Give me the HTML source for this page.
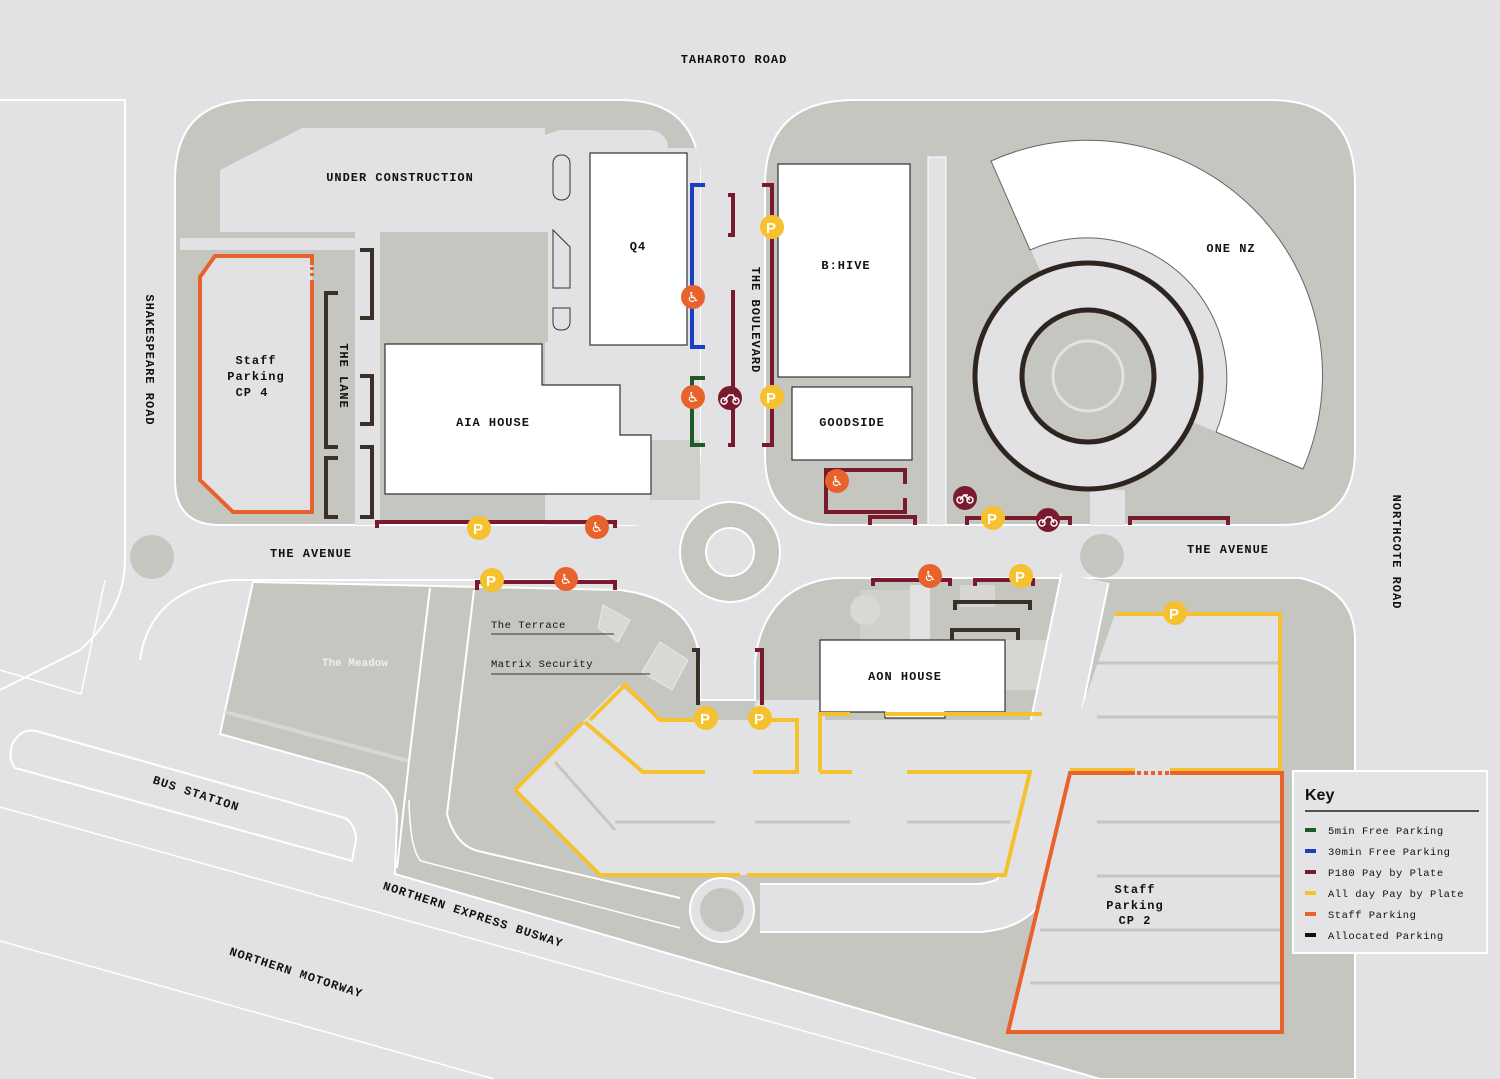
<!DOCTYPE html>
<html><head><meta charset="utf-8"><style>
html,body{margin:0;padding:0;background:#e2e2e5;width:1500px;height:1079px;overflow:hidden}
svg{display:block;overflow:hidden}
.t{font-family:"Liberation Mono",monospace;font-size:12px;font-weight:bold;fill:#111;letter-spacing:1px}
.s{font-family:"Liberation Mono",monospace;font-size:10.5px;fill:#111;letter-spacing:0.5px}
</style></head><body>
<svg width="1500" height="1079" viewBox="0 0 1500 1079" xmlns="http://www.w3.org/2000/svg" style="overflow:hidden">
<rect width="1500" height="1079" fill="#e2e2e5"/>
<path d="M0,100 H125 V560 Q125,610 80,650 L0,690" fill="none" stroke="#fff" stroke-width="2"/>
<path d="M0,670 L81,694 L105,580" fill="none" stroke="#fff" stroke-width="1.5"/>
<path d="M36,731 L345,818 Q356,825 356,840 L352,861 L15,768 Q8,760 12,745 Q20,728 36,731 Z" fill="none" stroke="#fff" stroke-width="2"/>
<path d="M0,807 L976,1079" stroke="#fff" stroke-width="1.5"/>
<path d="M0,941 L494,1079" stroke="#fff" stroke-width="1.5"/>
<path d="M140,660 Q150,590 230,580 L610,580" fill="none" stroke="#fff" stroke-width="2"/>

<path d="M255,100 H620 Q700,100 700,180 V450 Q700,525 625,525 H220 Q175,525 175,480 V180 Q175,100 255,100 Z" fill="#c6c6c1" stroke="#fff" stroke-width="2"/>
<path d="M220,170 L302,128 H545 V135 L560,130 H650 Q668,132 668,150 V232 H220 Z" fill="#e2e2e5"/>
<path d="M545,148 H700 V525 H545 Z" fill="#e2e2e5"/>
<rect x="180" y="238" width="200" height="12" fill="#e2e2e5"/>
<rect x="355" y="232" width="25" height="293" fill="#e2e2e5"/>
<rect x="380" y="232" width="168" height="110" fill="#c6c6c1"/>
<rect x="650" y="440" width="50" height="60" fill="#cfcfcb"/>
<path d="M200,277 L215,256 H312 V512 H233 L200,480 Z" fill="#e2e2e5"/>
<rect x="553" y="155" width="17" height="45" rx="8" fill="#e2e2e5" stroke="#333"/>
<path d="M553,230 L570,247 V288 H553 Z" fill="#e2e2e5" stroke="#333"/>
<path d="M553,308 H570 V322 Q570,330 561,330 Q553,330 553,322 Z" fill="#e2e2e5" stroke="#333"/>

<path d="M855,100 H1270 Q1355,100 1355,185 V450 Q1355,525 1280,525 H835 Q765,525 765,455 V185 Q765,100 855,100 Z" fill="#c6c6c1" stroke="#fff" stroke-width="2"/>
<rect x="928" y="157" width="18" height="368" fill="#e2e2e5" stroke="#fff"/>
<rect x="1090" y="490" width="35" height="35" fill="#e2e2e5"/>
<path d="M1088,376 L1030,248 A140,140 0 0 1 1216,432 Z" fill="#e2e2e5"/>
<path d="M991,161 A235,235 0 0 1 1303,469 L1216,432 A140,140 0 0 0 1030,250 Z" fill="#fff" stroke="#666" stroke-width="1"/>
<circle cx="1088" cy="376" r="113" fill="#e2e2e5" stroke="#2e2420" stroke-width="5"/>
<circle cx="1088" cy="376" r="66" fill="#c6c6c1" stroke="#2e2420" stroke-width="5"/>
<circle cx="1088" cy="376" r="35" fill="none" stroke="#e2e2e5" stroke-width="3"/>

<path d="M253,582 L620,590 Q700,600 700,670 L700,700 L755,700 L755,660 Q765,585 835,578 L1300,578 Q1355,590 1355,640 L1355,1079 L1100,1079 L395,874 L397,820 Q397,790 364,774 L220,734 Z" fill="#c6c6c1" stroke="#fff" stroke-width="2"/>
<line x1="225" y1="712" x2="409" y2="761" stroke="#d6d6d3" stroke-width="4"/>
<path d="M430,588 L409,761 L397,868" fill="none" stroke="#fff" stroke-width="2"/>
<path d="M474,590 L447,814 Q455,845 478,851 L680,898" fill="none" stroke="#fff" stroke-width="2"/>
<path d="M409,800 Q410,850 421,861 L680,928" fill="none" stroke="#fff" stroke-width="1.5"/>
<rect x="860" y="590" width="50" height="50" fill="#d0d0cc"/>
<circle cx="865" cy="610" r="15" fill="#d8d8d5"/>
<rect x="910" y="585" width="20" height="55" fill="#e2e2e5"/>
<rect x="960" y="585" width="35" height="22" fill="#d6d6d3"/>
<path d="M1005,640 H1055 V690 H1005 Z" fill="#d6d6d3"/>
<circle cx="730" cy="552" r="50" fill="#c6c6c1" stroke="#fff" stroke-width="2"/>
<circle cx="730" cy="552" r="24" fill="#e2e2e5" stroke="#fff" stroke-width="2"/>
<circle cx="152" cy="557" r="22" fill="#c6c6c1"/>
<circle cx="1102" cy="556" r="22" fill="#c6c6c1"/>
<path d="M1085,578 L1020,890 Q1010,905 980,908 L760,908" fill="none" stroke="#fff" stroke-width="50"/>
<path d="M1085,578 L1020,890 Q1010,905 980,908 L760,908" fill="none" stroke="#e2e2e5" stroke-width="46"/>
<circle cx="722" cy="910" r="32" fill="#e2e2e5" stroke="#fff" stroke-width="2"/>
<circle cx="722" cy="910" r="22" fill="#c6c6c1"/>
<path d="M515,790 L583,722 L620,685 L660,720 H1042 V770 L1005,875 H600 Z" fill="#e2e2e5"/>
<path d="M1115,614 H1280 V1032 H1008 L1070,773 L1060,770 Z" fill="#e2e2e5"/>
<rect x="755" y="700" width="70" height="70" fill="#e2e2e5"/>
<g stroke="#c6c6c1" stroke-width="3">
<line x1="615" y1="822" x2="715" y2="822"/><line x1="755" y1="822" x2="850" y2="822"/><line x1="907" y1="822" x2="1010" y2="822"/>
<line x1="1097" y1="663" x2="1280" y2="663"/><line x1="1097" y1="717" x2="1280" y2="717"/>
<line x1="1097" y1="822" x2="1280" y2="822"/><line x1="1097" y1="876" x2="1280" y2="876"/>
<line x1="1040" y1="930" x2="1280" y2="930"/><line x1="1030" y1="983" x2="1280" y2="983"/>
<path d="M555,762 L615,830"/>
</g>
<path d="M603,605 L630,620 L618,642 L598,628 Z M660,642 L688,660 L672,690 L642,672 Z" fill="#d8d8d5" stroke="#e8e8ea"/>

<g fill="#fff" stroke="#333" stroke-width="1.2">
<rect x="590" y="153" width="97" height="192"/>
<rect x="778" y="164" width="132" height="213"/>
<rect x="792" y="387" width="120" height="73"/>
<path d="M385,344 H542 V385 H620 V435 H651 V494 H385 Z"/>
<path d="M820,640 H1005 V712 H945 V718 H885 V712 H820 Z"/>
</g>

<g fill="none" stroke-width="4" stroke-linejoin="miter">
<path d="M705,185 H692 V347 H705" stroke="#1a3fc4"/>
<path d="M705,378 H692 V445 H705" stroke="#1e5a2a"/>
<g stroke="#7a1a2e">
<path d="M728,195 H733 V235 H728"/><path d="M733,290 V445 H728"/>
<path d="M762,185 H772 V445 H762"/>
<path d="M377,528 V522 H615 V528"/>
<path d="M477,590 V582 H615 V590"/>
<path d="M905,484 V470 H826 V512 H905 V498"/>
<path d="M870,525 V517 H915 V525"/>
<path d="M967,525 V518 H1070 V525"/>
<path d="M1130,525 V518 H1228 V525"/>
<path d="M873,586 V580 H950 V586"/><path d="M975,586 V580 H1033 V586"/>
<path d="M755,650 H762 V705"/>
</g>
<g stroke="#3a3028">
<path d="M360,250 H372 V318 H360"/><path d="M338,293 H326 V447 H338"/>
<path d="M360,376 H372 V424 H360"/><path d="M338,458 H326 V517 H338"/>
<path d="M360,447 H372 V517 H360"/>
<path d="M955,610 V602 H1030 V610"/><path d="M952,640 V630 H1018 V640"/>
<path d="M692,650 H698 V705"/>
</g>
<path d="M312,265 V256 H215 L200,277 V480 L233,512 H312 V280" stroke="#e8632b"/>
<path d="M312,267 V277" stroke="#e8632b" stroke-dasharray="3,3"/>
<g stroke="#f5c12e">
<path d="M590,720 L625,685 L660,720 H695"/>
<path d="M585,722 L643,772 H705"/>
<path d="M515,790 L583,722 M515,790 L600,875 H740"/>
<path d="M760,720 H797 V772 H753"/>
<path d="M907,772 H1030 L1005,875 H747"/>
<path d="M820,772 V714 H850 M885,714 H1042"/>
<path d="M820,772 H852"/>
<path d="M1115,614 H1280 V770 H1170"/><path d="M1135,770 H1070"/>
</g>
<path d="M1135,773 H1070 L1008,1032 H1282 V773 H1170" stroke="#e8632b"/>
<path d="M1137,773 H1170" stroke="#e8632b" stroke-dasharray="4,3"/>
</g>

<g font-family="Liberation Sans,sans-serif" font-weight="bold" text-anchor="middle">
<g fill="#f5c12e">
<circle cx="772" cy="227" r="12"/><circle cx="772" cy="397" r="12"/><circle cx="479" cy="528" r="12"/><circle cx="492" cy="580" r="12"/><circle cx="993" cy="518" r="12"/><circle cx="1021" cy="576" r="12"/><circle cx="1175" cy="613" r="12"/><circle cx="706" cy="718" r="12"/><circle cx="760" cy="718" r="12"/>
</g>
<g fill="#fff" font-size="15">
<text x="771" y="233">P</text><text x="771" y="403">P</text><text x="478" y="534">P</text><text x="491" y="586">P</text><text x="992" y="524">P</text><text x="1020" y="582">P</text><text x="1174" y="619">P</text><text x="705" y="724">P</text><text x="759" y="724">P</text>
</g>
<g fill="#e8632b">
<circle cx="693" cy="297" r="12"/><circle cx="693" cy="397" r="12"/><circle cx="597" cy="527" r="12"/><circle cx="566" cy="579" r="12"/><circle cx="837" cy="481" r="12"/><circle cx="930" cy="576" r="12"/>
</g>
<g fill="#fff" font-size="14" font-family="DejaVu Sans,sans-serif">
<text x="693" y="302">♿</text><text x="693" y="402">♿</text><text x="597" y="532">♿</text><text x="566" y="584">♿</text><text x="837" y="486">♿</text><text x="930" y="581">♿</text>
</g>
<g fill="#7a1a2e"><circle cx="730" cy="398" r="12"/><circle cx="1048" cy="520" r="12"/><circle cx="965" cy="498" r="12"/></g>
<g fill="none" stroke="#fff" stroke-width="1.5">
<circle cx="724" cy="401" r="3"/><circle cx="736" cy="401" r="3"/><path d="M724,401 L729,395 H733 L736,401"/>
<circle cx="1042" cy="523" r="3"/><circle cx="1054" cy="523" r="3"/><path d="M1042,523 L1047,517 H1051 L1054,523"/>
<circle cx="960" cy="500" r="3"/><circle cx="970" cy="500" r="3"/><path d="M960,500 L964,495 L970,500 M964,495 H968"/>
</g>
</g>

<text class="t" x="734" y="63" text-anchor="middle">TAHAROTO ROAD</text>
<text class="t" x="400" y="181" text-anchor="middle">UNDER CONSTRUCTION</text>
<text class="t" x="638" y="250" text-anchor="middle">Q4</text>
<text class="t" x="846" y="269" text-anchor="middle">B:HIVE</text>
<text class="t" x="852" y="426" text-anchor="middle">GOODSIDE</text>
<text class="t" x="493" y="426" text-anchor="middle">AIA HOUSE</text>
<text class="t" x="905" y="680" text-anchor="middle">AON HOUSE</text>
<text class="t" x="1231" y="252" text-anchor="middle">ONE NZ</text>
<text class="t" x="311" y="557" text-anchor="middle">THE AVENUE</text>
<text class="t" x="1228" y="553" text-anchor="middle">THE AVENUE</text>
<text class="t" x="256" y="364" text-anchor="middle">Staff</text>
<text class="t" x="256" y="380" text-anchor="middle">Parking</text>
<text class="t" x="252" y="396" text-anchor="middle">CP 4</text>
<text class="t" x="1135" y="893" text-anchor="middle">Staff</text>
<text class="t" x="1135" y="909" text-anchor="middle">Parking</text>
<text class="t" x="1135" y="924" text-anchor="middle">CP 2</text>
<text class="t" transform="translate(146,360) rotate(90)" text-anchor="middle">SHAKESPEARE ROAD</text>
<text class="t" transform="translate(340,376) rotate(90)" text-anchor="middle">THE LANE</text>
<text class="t" transform="translate(752,320) rotate(90)" text-anchor="middle">THE BOULEVARD</text>
<text class="t" transform="translate(1393,552) rotate(90)" text-anchor="middle">NORTHCOTE ROAD</text>
<text class="t" transform="translate(195,797) rotate(18)" text-anchor="middle">BUS STATION</text>
<text class="t" transform="translate(472,918) rotate(18)" text-anchor="middle">NORTHERN EXPRESS BUSWAY</text>
<text class="t" transform="translate(295,976) rotate(18)" text-anchor="middle">NORTHERN MOTORWAY</text>
<text x="355" y="666" text-anchor="middle" font-family="Liberation Mono,monospace" font-size="11" font-weight="bold" fill="#eee">The Meadow</text>
<text class="s" x="491" y="628">The Terrace</text>
<line x1="491" y1="634" x2="614" y2="634" stroke="#333"/>
<text class="s" x="491" y="667">Matrix Security</text>
<line x1="491" y1="674" x2="650" y2="674" stroke="#333"/>

<rect x="1293" y="771" width="194" height="182" fill="#e4e4e7" stroke="#fff" stroke-width="2"/>
<text x="1305" y="800" font-family="Liberation Sans,sans-serif" font-size="16" font-weight="bold" fill="#111">Key</text>
<line x1="1305" y1="811" x2="1479" y2="811" stroke="#222" stroke-width="1.5"/>
<g stroke-width="4">
<line x1="1305" y1="830" x2="1316" y2="830" stroke="#1e5a2a"/>
<line x1="1305" y1="851" x2="1316" y2="851" stroke="#1a3fc4"/>
<line x1="1305" y1="872" x2="1316" y2="872" stroke="#7a1a2e"/>
<line x1="1305" y1="893" x2="1316" y2="893" stroke="#f5c12e"/>
<line x1="1305" y1="914" x2="1316" y2="914" stroke="#e8632b"/>
<line x1="1305" y1="935" x2="1316" y2="935" stroke="#111"/>
</g>
<text class="s" x="1328" y="834">5min Free Parking</text>
<text class="s" x="1328" y="855">30min Free Parking</text>
<text class="s" x="1328" y="876">P180 Pay by Plate</text>
<text class="s" x="1328" y="897">All day Pay by Plate</text>
<text class="s" x="1328" y="918">Staff Parking</text>
<text class="s" x="1328" y="939">Allocated Parking</text>
</svg>
</body></html>
